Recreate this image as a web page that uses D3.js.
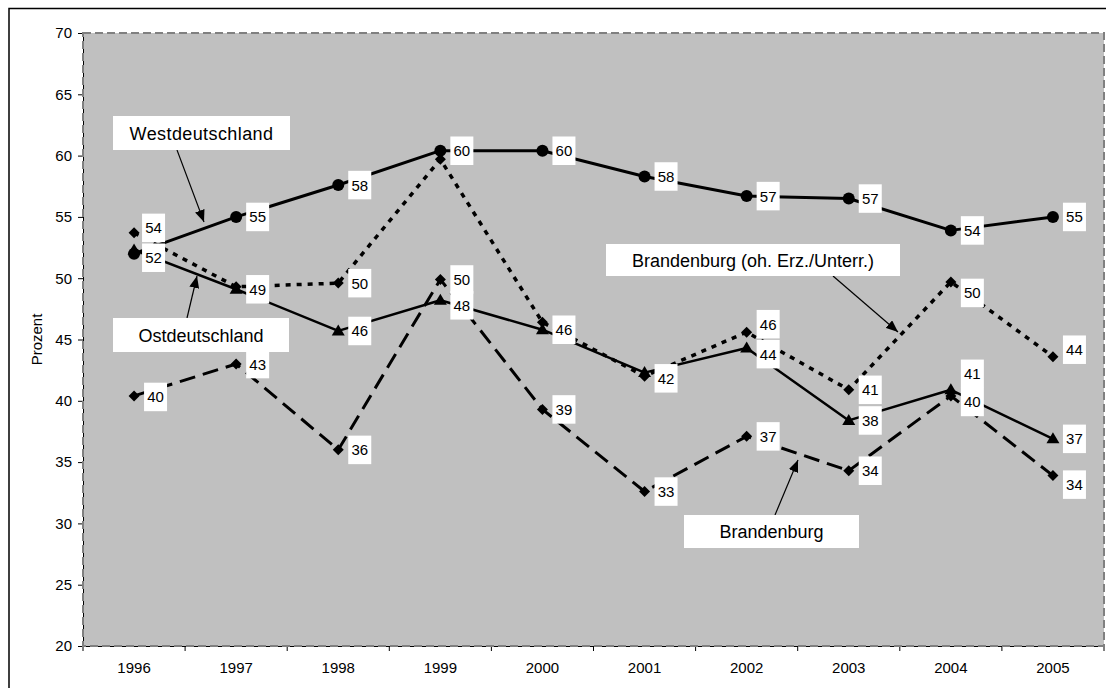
<!DOCTYPE html>
<html><head><meta charset="utf-8">
<script src="https://cdn.jsdelivr.net/npm/d3@7"></script>
<style>
body{margin:0;background:#fff;}
svg{display:block;font-family:"Liberation Sans",Arial,sans-serif;}
</style></head>
<body>
<svg id="chart" width="1106" height="688"></svg>
<script>
// ---- data ----
const years = ["1996","1997","1998","1999","2000","2001","2002","2003","2004","2005"];
const westdeutschland = [52.0, 55.0, 57.6, 60.4, 60.4, 58.3, 56.7, 56.5, 53.9, 55.0];
const ostdeutschland  = [52.3, 49.1, 45.7, 48.2, 45.8, 42.3, 44.3, 38.4, 40.9, 36.9];
const brandenburgOhne = [53.7, 49.3, 49.6, 59.7, 46.4, 42.0, 45.6, 40.9, 49.7, 43.6];
const brandenburg     = [40.4, 43.0, 36.0, 49.9, 39.3, 32.6, 37.1, 34.3, 40.4, 33.9];
const yTicks = [20, 25, 30, 35, 40, 45, 50, 55, 60, 65, 70];
const yTitle = "Prozent";
const calloutNames = ["Westdeutschland", "Ostdeutschland", "Brandenburg (oh. Erz./Unterr.)", "Brandenburg"];

// ---- layout / style ----
const W = 1106, H = 688;
const plot = {left: 83, top: 33, right: 1104, bottom: 646};
const svg = d3.select("#chart");

const x = d3.scaleBand().domain(years).range([plot.left, plot.right]).padding(0);
const y = d3.scaleLinear().domain([20, 70]).range([plot.bottom, plot.top]);
const cx = d => x(d) + x.bandwidth() / 2;

const series = [
  {key: "West",  name: calloutNames[0], values: westdeutschland, marker: "circle",   width: 3,   dash: null},
  {key: "Ost",   name: calloutNames[1], values: ostdeutschland,  marker: "triangle", width: 2.5, dash: null},
  {key: "Brand", name: calloutNames[3], values: brandenburg,     marker: "diamond",  width: 3,   dash: "16,8"},
  {key: "Ohne",  name: calloutNames[2], values: brandenburgOhne, marker: "diamond",  width: 3.5, dash: "5,6"}
];

// label adjustments (layout only)
const labelAdjust = {
  "West|1996": {dx: -2, dy: 4},
  "Ohne|1996": {dx: -2, dy: -5},
  "Brand|1996": {dx: 0, dy: 1},
  "Ost|1996": null,
  "Ohne|1997": null,
  "Ohne|1999": null,
  "Ost|1999": {dx: 0, dy: 5},
  "Ohne|2000": null,
  "Ost|2001": null,
  "Ohne|2001": {dx: 0, dy: 2},
  "Ohne|2002": {dx: 0, dy: -8},
  "Ost|2002": {dx: 0, dy: 6},
  "Ost|2004": {dx: 0, dy: -16},
  "Brand|2004": {dx: 0, dy: 6},
  "Ohne|2004": {dx: 0, dy: 11},
  "Ohne|2005": {dx: 0, dy: -7},
  "Brand|2005": {dx: 0, dy: 9}
};

// outer frame
svg.append("rect").attr("x", 9).attr("y", 8.5).attr("width", 1130).attr("height", 720)
  .attr("fill", "#fff").attr("stroke", "#000").attr("stroke-width", 1.5);

// plot background
svg.append("rect").attr("x", plot.left).attr("y", plot.top)
  .attr("width", plot.right - plot.left).attr("height", plot.bottom - plot.top)
  .attr("fill", "#C0C0C0");

// y axis
const yAxis = svg.append("g").attr("transform", `translate(${plot.left},0)`)
  .call(d3.axisLeft(y).tickValues(yTicks).tickSize(5).tickPadding(6));
yAxis.select(".domain").attr("stroke", "#000").attr("stroke-width", 1);
yAxis.selectAll(".tick line").attr("stroke", "#000");
yAxis.selectAll(".tick text").attr("font-size", 15).attr("fill", "#000")
  .attr("font-family", "Liberation Sans, Arial, sans-serif");

// x axis: labels centered, ticks at band boundaries
const xAxis = svg.append("g").attr("transform", `translate(0,${plot.bottom})`)
  .call(d3.axisBottom(x).tickSize(0).tickPadding(16));
xAxis.select(".domain").attr("stroke", "#000");
xAxis.selectAll(".tick text").attr("font-size", 15).attr("fill", "#000")
  .attr("font-family", "Liberation Sans, Arial, sans-serif");
svg.append("g").selectAll("line").data(years.concat(["end"])).join("line")
  .attr("x1", d => d === "end" ? plot.right : x(d))
  .attr("x2", d => d === "end" ? plot.right : x(d))
  .attr("y1", plot.bottom).attr("y2", plot.bottom + 5)
  .attr("stroke", "#000");

// dashed plot border
svg.append("rect").attr("x", plot.left).attr("y", plot.top)
  .attr("width", plot.right - plot.left).attr("height", plot.bottom - plot.top)
  .attr("fill", "none").attr("stroke", "#808080").attr("stroke-width", 2)
  .attr("stroke-dasharray", "8,4");

// y title
svg.append("text").attr("transform", `translate(42,${(plot.top + plot.bottom) / 2}) rotate(-90)`)
  .attr("text-anchor", "middle").attr("font-size", 15).attr("fill", "#000").text(yTitle);

// lines
const line = d3.line().x((d, i) => cx(years[i])).y(d => y(d));
const drawOrder = ["Ohne", "Brand", "Ost", "West"];
drawOrder.forEach(k => {
  const s = series.find(s => s.key === k);
  svg.append("path").datum(s.values).attr("d", line)
    .attr("fill", "none").attr("stroke", "#000").attr("stroke-width", s.width)
    .attr("stroke-dasharray", s.dash).attr("stroke-linejoin", "round");
});

// markers
const markerPath = {
  triangle: "M0,-6.5L6.5,4.5L-6.5,4.5Z",
  diamond: "M0,-5.5L5.5,0L0,5.5L-5.5,0Z"
};
drawOrder.forEach(k => {
  const s = series.find(s => s.key === k);
  const g = svg.append("g");
  s.values.forEach((v, i) => {
    if (s.marker === "circle") {
      g.append("circle").attr("cx", cx(years[i])).attr("cy", y(v)).attr("r", 6).attr("fill", "#000");
    } else {
      g.append("path").attr("d", markerPath[s.marker])
        .attr("transform", `translate(${cx(years[i])},${y(v)})`).attr("fill", "#000");
    }
  });
});

// data labels
const fmt = d3.format(".0f");
const lblG = svg.append("g");
["Brand", "Ohne", "Ost", "West"].forEach(k => {
  const s = series.find(s => s.key === k);
  s.values.forEach((v, i) => {
    const id = k + "|" + years[i];
    let adj = {dx: 0, dy: 0};
    if (id in labelAdjust) { adj = labelAdjust[id]; if (adj === null) return; }
    const bx = cx(years[i]) + 10 + adj.dx;
    const by = y(v) + adj.dy;
    const g = lblG.append("g");
    g.append("rect").attr("x", bx).attr("y", by - 14.2).attr("width", 23).attr("height", 28.5).attr("fill", "#fff");
    g.append("text").attr("x", bx + 11.5).attr("y", by + 5.5).attr("text-anchor", "middle")
      .attr("font-size", 15).attr("fill", "#000").text(fmt(v));
  });
});

// callouts
svg.append("defs").append("marker").attr("id", "arr")
  .attr("viewBox", "0 0 12 10").attr("refX", 12).attr("refY", 5)
  .attr("markerWidth", 12).attr("markerHeight", 10).attr("markerUnits", "userSpaceOnUse")
  .attr("orient", "auto")
  .append("path").attr("d", "M0,0L12,5L0,10Z").attr("fill", "#000");

const callouts = [
  {name: calloutNames[0], box: [113, 116, 177, 34], from: [177, 150], to: [204, 222], ls: 0.4},
  {name: calloutNames[1], box: [113, 318, 176, 34], from: [187, 318], to: [197, 276], ls: 0},
  {name: calloutNames[2], box: [606, 244, 294, 32], from: [833, 276], to: [898, 332], ls: 0},
  {name: calloutNames[3], box: [684, 515, 175, 33], from: [775, 515], to: [798, 460], ls: 0}
];
callouts.forEach(c => {
  svg.append("line").attr("x1", c.from[0]).attr("y1", c.from[1]).attr("x2", c.to[0]).attr("y2", c.to[1])
    .attr("stroke", "#000").attr("stroke-width", 1.2).attr("marker-end", "url(#arr)");
  svg.append("rect").attr("x", c.box[0]).attr("y", c.box[1]).attr("width", c.box[2]).attr("height", c.box[3]).attr("fill", "#fff");
  svg.append("text").attr("x", c.box[0] + c.box[2] / 2).attr("y", c.box[1] + c.box[3] / 2 + 6.5)
    .attr("text-anchor", "middle").attr("font-size", 18).attr("letter-spacing", c.ls).attr("fill", "#000").text(c.name);
});
</script>
</body></html>
